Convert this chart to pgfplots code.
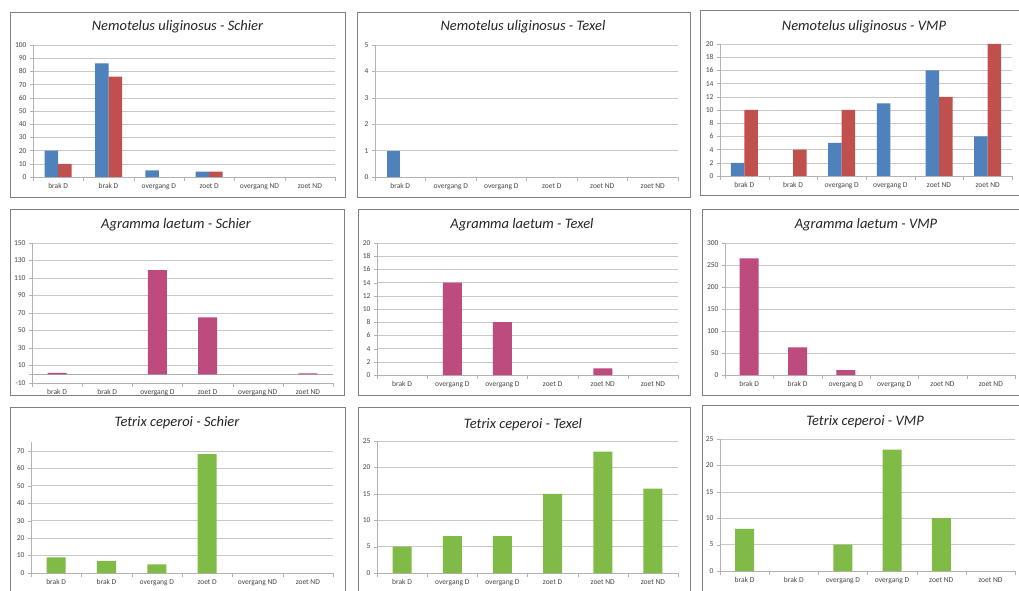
\documentclass[border=0pt]{standalone}
\usepackage{pgfplots}
\pgfplotsset{compat=1.18}
\usepackage{fontspec}
\setmainfont{Carlito}
\definecolor{xblue}{RGB}{79,129,189}
\definecolor{xred}{RGB}{192,80,77}
\definecolor{xmag}{RGB}{190,75,125}
\definecolor{xgreen}{RGB}{128,187,72}
\definecolor{frame}{RGB}{128,128,128}
\definecolor{gridc}{RGB}{200,200,200}
\definecolor{lbl}{RGB}{70,70,70}
\pgfplotsset{
  panel/.style={
    scale only axis, anchor=south west,
    xmin=-0.5, xmax=5.5,
    xtick={0,...,5},
    minor xtick={-0.5,0.5,...,5.5},
    axis x line*=bottom, axis y line*=left,
    axis line style={draw=gray!60},
    tick align=outside,
    major tick length=3pt, minor tick length=4pt,
    major x tick style={draw=none},
    minor x tick style={draw=gray!60},
    major y tick style={draw=gray!60},
    ymajorgrids, major grid style={draw=gridc},
    /pgf/number format/assume math mode=true,
    yticklabel style={font=\fontsize{7.5}{8}\selectfont, text=lbl},
    xticklabel style={font=\fontsize{7.5}{8}\selectfont, text=lbl},
    ybar, bar width=19pt,
    clip=false,
  },
  lab1/.style={xticklabels={brak D, brak D, overgang D, zoet D, overgang ND, zoet ND}},
  lab2/.style={xticklabels={brak D, overgang D, overgang D, zoet D, zoet ND, zoet ND}},
  lab3/.style={xticklabels={brak D, brak D, overgang D, overgang D, zoet ND, zoet ND}},
}
\tikzset{ttl/.style={font=\fontsize{14.5}{16}\selectfont\itshape, text=black!85}}
\begin{document}
\begin{tikzpicture}
\fill[white] (0,0) rectangle (1019pt,590pt);
\path[use as bounding box] (0,0) rectangle (1019pt,590pt);
% frames
\draw[frame] (10pt,393pt) rectangle (345pt,578pt);
\draw[frame] (357pt,393pt) rectangle (690pt,578pt);
\draw[frame] (700pt,395pt) rectangle (1021pt,580pt);
\draw[frame] (10pt,195pt) rectangle (344pt,381pt);
\draw[frame] (358pt,195pt) rectangle (690pt,381pt);
\draw[frame] (702pt,195pt) rectangle (1021pt,381pt);
\draw[frame] (10pt,-2pt) rectangle (345pt,183pt);
\draw[frame] (358pt,-2pt) rectangle (690pt,183pt);
\draw[frame] (702pt,-2pt) rectangle (1021pt,185pt);
% titles
\node[ttl] at (177.5pt,563pt) {Nemotelus uliginosus - Schier};
\node[ttl] at (523pt,563pt) {Nemotelus uliginosus - Texel};
\node[ttl] at (864pt,563pt) {Nemotelus uliginosus - VMP};
\node[ttl] at (176pt,365pt) {Agramma laetum - Schier};
\node[ttl] at (522pt,365pt) {Agramma laetum - Texel};
\node[ttl] at (866pt,365pt) {Agramma laetum - VMP};
\node[ttl] at (177pt,167pt) {Tetrix ceperoi - Schier};
\node[ttl] at (523pt,165pt) {Tetrix ceperoi - Texel};
\node[ttl] at (865pt,168pt) {Tetrix ceperoi - VMP};

% P1
\begin{axis}[panel, lab1, at={(33pt,413pt)}, width=302pt, height=132pt,
  ymin=0, ymax=100, ytick={0,10,...,100}, ybar=0pt, bar width=13.5pt]
\addplot[fill=xblue, draw=none] coordinates {(0,20) (1,86) (2,5) (3,4)};
\addplot[fill=xred, draw=none] coordinates {(0,10) (1,76) (3,4)};
\end{axis}
% P2
\begin{axis}[panel, lab2, at={(375pt,413pt)}, width=303pt, height=132pt,
  ymin=0, ymax=5, ytick={0,...,5}, bar width=13.5pt, bar shift=-6.75pt]
\addplot[fill=xblue, draw=none] coordinates {(0,1)};
\end{axis}
% P3
\begin{axis}[panel, lab3, at={(720pt,414pt)}, width=292pt, height=132pt,
  ymin=0, ymax=20, ytick={0,2,...,20}, ybar=0pt, bar width=13.5pt]
\addplot[fill=xblue, draw=none] coordinates {(0,2) (2,5) (3,11) (4,16) (5,6)};
\addplot[fill=xred, draw=none] coordinates {(0,10) (1,4) (2,10) (4,12) (5,20)};
\end{axis}
% P4
\begin{axis}[panel, lab1, at={(32pt,207pt)}, width=301pt, height=140pt,
  ymin=-10, ymax=150, ytick={-10,10,...,150},
  extra y ticks={0}, extra y tick labels={},
  extra y tick style={grid=major, major grid style={draw=gray!65}}]
\addplot[fill=xmag, draw=none] coordinates {(0,1.5) (2,119) (3,65) (5,1)};
\end{axis}
% P5
\begin{axis}[panel, lab2, at={(377pt,215pt)}, width=301pt, height=132pt,
  ymin=0, ymax=20, ytick={0,2,...,20}]
\addplot[fill=xmag, draw=none] coordinates {(1,14) (2,8) (4,1)};
\end{axis}
% P6
\begin{axis}[panel, lab3, at={(725pt,215pt)}, width=290pt, height=132pt,
  ymin=0, ymax=300, ytick={0,50,...,300}]
\addplot[fill=xmag, draw=none] coordinates {(0,265) (1,63) (2,11)};
\end{axis}
% P7
\begin{axis}[panel, lab1, at={(31pt,17pt)}, width=302pt, height=131pt,
  ymin=0, ymax=75, ytick={0,10,...,70}]
\addplot[fill=xgreen, draw=none] coordinates {(0,9) (1,7) (2,5) (3,68)};
\end{axis}
% P8
\begin{axis}[panel, lab2, at={(377pt,17pt)}, width=301pt, height=132pt,
  ymin=0, ymax=25, ytick={0,5,...,25}]
\addplot[fill=xgreen, draw=none] coordinates {(0,5) (1,7) (2,7) (3,15) (4,23) (5,16)};
\end{axis}
% P9
\begin{axis}[panel, lab3, at={(720pt,19pt)}, width=295pt, height=132pt,
  ymin=0, ymax=25, ytick={0,5,...,25}]
\addplot[fill=xgreen, draw=none] coordinates {(0,8) (2,5) (3,23) (4,10)};
\end{axis}
\end{tikzpicture}
\end{document}
